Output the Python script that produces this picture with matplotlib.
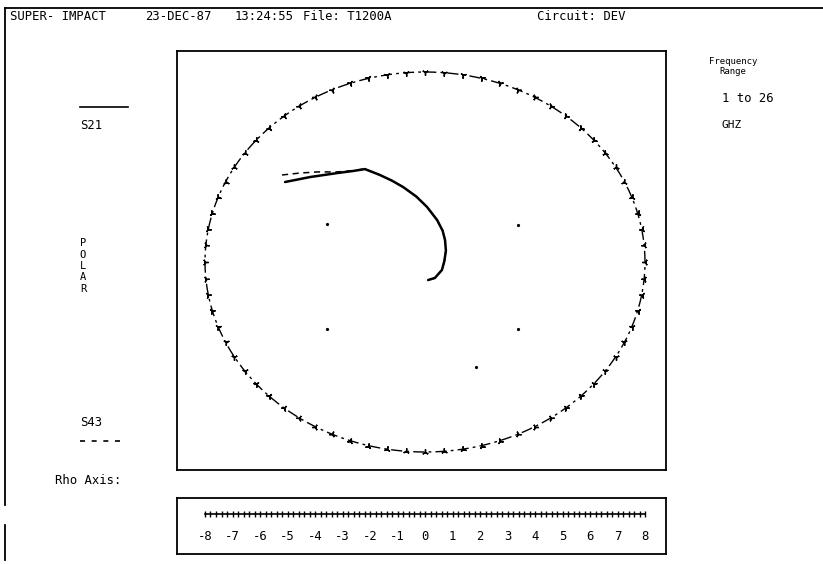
import numpy as np
import matplotlib
matplotlib.use("Agg")
import matplotlib.pyplot as plt
from matplotlib.transforms import blended_transform_factory

# ---------------- data ----------------
header_items = ["SUPER- IMPACT", "23-DEC-87", "13:24:55", "File: T1200A", "Circuit: DEV"]
header_x_px = [10, 145, 235, 303, 537]

# S21 (solid) as real / imag parts, 1 to 26 GHz
s21_re = [-0.636, -0.523, -0.400, -0.327, -0.273, -0.205, -0.150, -0.100, -0.040, 0.009, 0.055, 0.080, 0.091, 0.095, 0.088, 0.077, 0.045, 0.014]
s21_im = [0.421, 0.447, 0.468, 0.479, 0.489, 0.458, 0.428, 0.395, 0.345, 0.290, 0.221, 0.165, 0.116, 0.060, 0.005, -0.042, -0.084, -0.095]
# S43 (dashed)
s43_re = [-0.650, -0.570, -0.490, -0.400, -0.327, -0.273, -0.205, -0.150, -0.100, -0.040, 0.009, 0.055, 0.080, 0.091, 0.095, 0.088, 0.077, 0.045, 0.014]
s43_im = [0.458, 0.468, 0.474, 0.474, 0.481, 0.490, 0.458, 0.428, 0.395, 0.345, 0.290, 0.221, 0.165, 0.116, 0.060, 0.005, -0.042, -0.084, -0.095]

grid_dot_re = [-0.445, 0.423, -0.445, 0.423, 0.232]
grid_dot_im = [0.200, 0.195, -0.353, -0.353, -0.553]

rho_labels = [-8, -7, -6, -5, -4, -3, -2, -1, 0, 1, 2, 3, 4, 5, 6, 7, 8]

W, H = 823, 564
fig = plt.figure(figsize=(W / 100, H / 100), dpi=100)
fig.patch.set_facecolor("white")

def fx(px):
    return px / W

def fy(py):
    return 1 - py / H

mono = "DejaVu Sans Mono"

# ---------------- outer frame ----------------
frame = fig.add_axes([0, 0, 1, 1], zorder=-1)
frame.set_xlim(0, W)
frame.set_ylim(H, 0)
frame.axis("off")
frame.plot([5, W], [8, 8], color="black", lw=1.3)
frame.plot([5, 5], [8, 505], color="black", lw=1.3)
frame.plot([5, 5], [525, 560], color="black", lw=1.3)
# legend lines
frame.plot([80, 128], [107, 107], color="black", lw=1.2)
frame.plot([80, 122], [441, 441], color="black", lw=1.2, ls=(0, (3, 4)))

# ---------------- header ----------------
for txt, xp in zip(header_items, header_x_px):
    fig.text(fx(xp), fy(17), txt, family=mono, fontsize=8.8, va="center", ha="left")

# ---------------- left labels ----------------
fig.text(fx(80), fy(126), "S21", family=mono, fontsize=8.8, va="center")
for i, ch in enumerate("POLAR"):
    fig.text(fx(83), fy(243 + i * 11.5), ch, family=mono, fontsize=7.5, va="center", ha="center")
fig.text(fx(80), fy(423), "S43", family=mono, fontsize=8.8, va="center")
fig.text(fx(55), fy(480), "Rho Axis:", family=mono, fontsize=8.8, va="center")

# ---------------- right labels ----------------
fig.text(fx(733), fy(62), "Frequency", family=mono, fontsize=6.5, va="center", ha="center")
fig.text(fx(733), fy(71), "Range", family=mono, fontsize=6.5, va="center", ha="center")
fig.text(fx(722), fy(99), "1 to 26", family=mono, fontsize=8.8, va="center")
fig.text(fx(722), fy(125), "GHZ", family=mono, fontsize=8, va="center")

# ---------------- main polar plot (cartesian) ----------------
cx, cy, rx, ry = 425, 262, 220, 190
x0, x1, y0, y1 = 177, 666, 51, 470
ax = fig.add_axes([fx(x0), fy(y1), (x1 - x0) / W, (y1 - y0) / H])
ax.set_xlim((x0 - cx) / rx, (x1 - cx) / rx)
ax.set_ylim((cy - y1) / ry, (cy - y0) / ry)
ax.set_xticks([])
ax.set_yticks([])
for sp in ax.spines.values():
    sp.set_linewidth(1.3)

# unit circle with tick marks every 5 degrees
th = np.linspace(0, 2 * np.pi, 721)
ax.plot(np.cos(th), np.sin(th), color="black", lw=1.0, ls=(0, (8, 3, 2, 3)))
for a in np.arange(0, 360, 5):
    r = np.deg2rad(a)
    ax.plot([np.cos(r)], [np.sin(r)], marker=(3, 2, a + 90), ms=4.5, color="black", mew=1.0)

ax.plot(grid_dot_re, grid_dot_im, ls="none", marker="o", ms=1.3, color="black")

ax.plot(s43_re, s43_im, color="black", lw=1.1, ls=(0, (4, 3)))
ax.plot(s21_re, s21_im, color="black", lw=1.8, solid_capstyle="round")

# ---------------- rho axis ----------------
rb0, rb1 = 498, 554
rax = fig.add_axes([fx(x0), fy(rb1), (x1 - x0) / W, (rb1 - rb0) / H])
rax.set_xlim(8 * (x0 - cx) / rx, 8 * (x1 - cx) / rx)
rax.set_ylim(0, 1)
rax.set_xticks([])
rax.set_yticks([])
for sp in rax.spines.values():
    sp.set_linewidth(1.3)
rmin, rmax = rho_labels[0], rho_labels[-1]
rax.plot([rmin, rmax], [0.71, 0.71], color="black", lw=1.2)
minor = np.arange(rmin, rmax + 0.001, 0.2)
rax.plot(minor, np.full_like(minor, 0.71), ls="none", marker="|", ms=5, color="black", mew=1.0)
trans = blended_transform_factory(rax.transData, rax.transAxes)
for v in rho_labels:
    rax.text(v, 0.31, str(v), transform=trans, family=mono, fontsize=8.8, ha="center", va="center")

fig.savefig("out.png", dpi=100, facecolor="white")
